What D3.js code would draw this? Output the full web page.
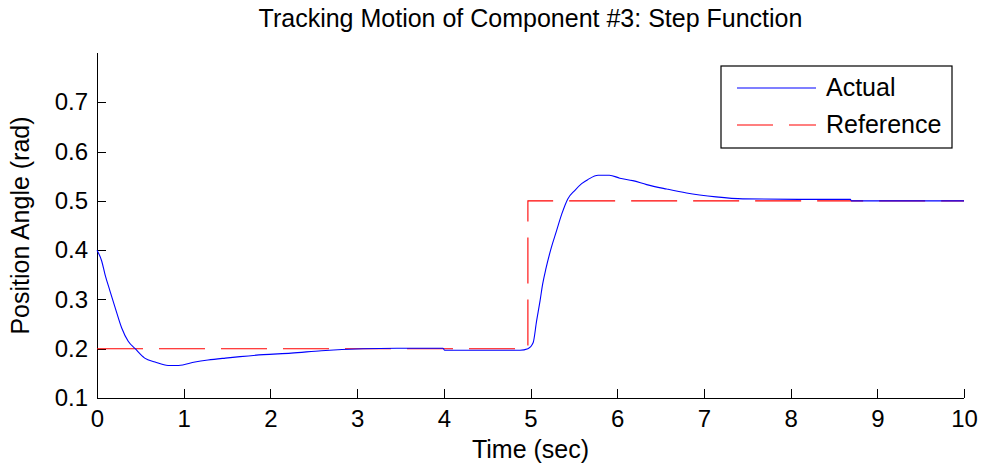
<!DOCTYPE html>
<html>
<head>
<meta charset="utf-8">
<script src="https://cdn.jsdelivr.net/npm/d3@7"></script>
<style>
  body { margin: 0; background: #fff; }
  svg text { font-family: "Liberation Sans", Arial, Helvetica, sans-serif; fill: #000; }
</style>
</head>
<body>
<svg id="chart" width="985" height="468"></svg>
<script>
// Actual response
const actualTime = [0, 0.054, 0.092, 0.15, 0.21, 0.285, 0.36, 0.44, 0.55, 0.67, 0.82, 0.94, 1.13, 1.28, 1.48,
  1.65, 1.92, 2.24, 2.59, 3.07, 3.46, 3.99, 4.01, 4.88, 4.97, 5.03, 5.07, 5.11, 5.14, 5.18, 5.24, 5.30, 5.36,
  5.43, 5.51, 5.59, 5.66, 5.78, 5.91, 6.03, 6.18, 6.34, 6.57, 6.80, 6.95, 7.14, 7.45, 8.10, 8.69, 8.70, 10];
const actualValue = [0.4, 0.378, 0.351, 0.317, 0.283, 0.242, 0.215, 0.2, 0.181, 0.173, 0.166, 0.166, 0.173, 0.177, 0.181,
  0.184, 0.188, 0.191, 0.196, 0.2, 0.201, 0.201, 0.197, 0.197, 0.2, 0.212, 0.256, 0.297, 0.331, 0.364, 0.405, 0.439, 0.473,
  0.504, 0.521, 0.535, 0.543, 0.552, 0.552, 0.546, 0.541, 0.533, 0.524, 0.516, 0.512, 0.508, 0.504, 0.503, 0.503, 0.5, 0.5];

// Reference step
const refTime = [0, 4.97, 4.97, 10];
const refValue = [0.2, 0.2, 0.5, 0.5];

const xTicks = [0, 1, 2, 3, 4, 5, 6, 7, 8, 9, 10];
const yTicks = [0.1, 0.2, 0.3, 0.4, 0.5, 0.6, 0.7];

const svg = d3.select("#chart");
const plotLeft = 97, plotRight = 964, plotTop = 53, plotBottom = 398;

const x = d3.scaleLinear().domain([0, 10]).range([plotLeft, plotRight]);
const y = d3.scaleLinear().domain([0.1, 0.8]).range([plotBottom, plotTop]);

// Axes (inward ticks, no box)
const xAxis = svg.append("g")
  .attr("transform", `translate(0,${plotBottom})`)
  .call(d3.axisBottom(x).tickValues(xTicks).tickSize(-9).tickPadding(12).tickFormat(d3.format("d")));
const yAxis = svg.append("g")
  .attr("transform", `translate(${plotLeft},0)`)
  .call(d3.axisLeft(y).tickValues(yTicks).tickSize(-9).tickPadding(9).tickFormat(d3.format(".1f")));

[xAxis, yAxis].forEach(g => {
  g.select(".domain").attr("stroke", "#000").attr("shape-rendering", "crispEdges");
  g.selectAll(".tick line").attr("stroke", "#000").attr("shape-rendering", "crispEdges");
  g.selectAll("text").attr("font-size", "24px").attr("fill", "#000")
    .style("font-family", "'Liberation Sans', Arial, sans-serif");
});
// y axis only spans up to 0.8 with no tick there
yAxis.select(".domain").attr("d", `M0,${plotBottom}V${plotTop}`);
xAxis.select(".domain").attr("d", `M${plotLeft},0H${plotRight}`);

const line = d3.line().x(d => x(d[0])).y(d => y(d[1]));

svg.append("path")
  .datum(refTime.map((t, i) => [t, refValue[i]]))
  .attr("d", line)
  .attr("fill", "none")
  .attr("stroke", "#ff0000")
  .attr("stroke-width", 1.1)
  .attr("stroke-dasharray", "46,16");

svg.append("path")
  .datum(actualTime.map((t, i) => [t, actualValue[i]]))
  .attr("d", line.curve(d3.curveMonotoneX))
  .attr("fill", "none")
  .attr("stroke", "#0000ff")
  .attr("stroke-width", 1.1);

// Title and labels
svg.append("text")
  .attr("x", (plotLeft + plotRight) / 2).attr("y", 27)
  .attr("text-anchor", "middle").attr("font-size", "25px")
  .text("Tracking Motion of Component #3: Step Function");

svg.append("text")
  .attr("x", (plotLeft + plotRight) / 2).attr("y", 458)
  .attr("text-anchor", "middle").attr("font-size", "25px")
  .text("Time (sec)");

svg.append("text")
  .attr("transform", `translate(29,${(plotTop + plotBottom) / 2}) rotate(-90)`)
  .attr("text-anchor", "middle").attr("font-size", "25px")
  .text("Position Angle (rad)");

// Legend
const legend = svg.append("g");
legend.append("rect")
  .attr("x", 721).attr("y", 66).attr("width", 231).attr("height", 82)
  .attr("fill", "#fff").attr("stroke", "#000").attr("stroke-width", 1.2);

const legendItems = [
  { label: "Actual", color: "#0000ff", dash: null, y: 88 },
  { label: "Reference", color: "#ff0000", dash: "36,16", y: 125 }
];
legendItems.forEach(d => {
  legend.append("line")
    .attr("x1", 737).attr("x2", 816).attr("y1", d.y).attr("y2", d.y)
    .attr("stroke", d.color).attr("stroke-width", 1.1)
    .attr("stroke-dasharray", d.dash);
  legend.append("text")
    .attr("x", 826).attr("y", d.y + 8)
    .attr("font-size", "25px")
    .text(d.label);
});
</script>
</body>
</html>
